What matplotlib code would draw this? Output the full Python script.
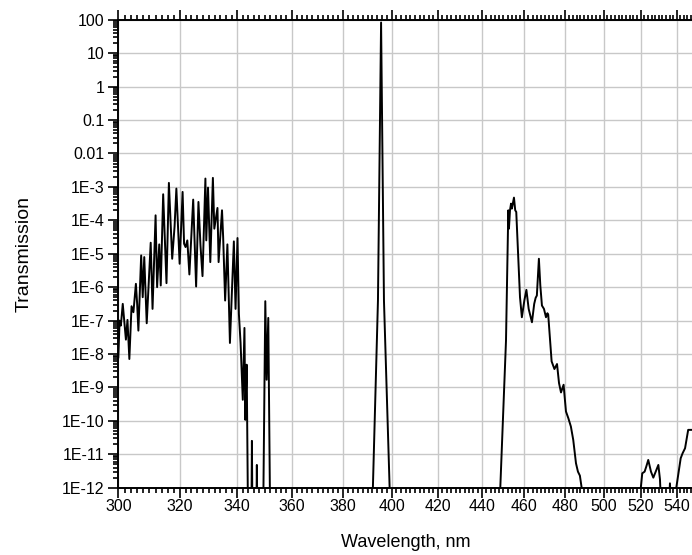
import numpy as np
import matplotlib
matplotlib.use("Agg")
import matplotlib.pyplot as plt
from matplotlib.ticker import FixedLocator, FixedFormatter, LogLocator, NullFormatter

plt.rcParams['font.family'] = ['Liberation Sans', 'DejaVu Sans']

# --- data (wavelength in nm, log10 of transmission) ---
# values below the 1E-12 floor are set to -13 so the line runs off the bottom
wavelength = [
    300.0, 300.4, 300.8, 301.4, 302.4, 302.9, 303.5, 304.2, 304.8, 305.6,
    306.0, 306.4, 307.3, 307.8, 308.3, 309.1, 310.4, 311.0, 312.0, 312.5,
    313.2, 313.7, 314.5, 315.6, 316.4, 317.5, 318.3, 318.9, 320.0, 321.0,
    321.5, 322.0, 322.6, 323.3, 324.6, 325.6, 326.4, 327.1, 327.8, 328.8,
    329.1, 329.7, 330.5, 331.4, 331.9, 333.0, 333.4, 334.6, 335.0, 335.7,
    336.5, 337.4, 338.8, 339.4, 340.1, 340.6, 341.2, 342.0, 342.6, 342.9,
    343.4, 343.9, 345.1, 345.3, 345.5, 346.9, 347.1, 347.3, 349.4, 350.2,
    350.7, 351.3, 352.0, 391.8, 392.2, 394.3, 395.6, 396.8, 399.2, 399.6,
    448.3, 448.5, 451.2, 452.3, 452.6, 453.1, 453.6, 454.0, 455.0, 455.6,
    456.1, 457.9, 458.8, 460.0, 461.0, 462.1, 463.7, 464.8, 465.5, 466.1,
    467.1, 467.8, 468.6, 469.6, 470.6, 471.3, 471.7, 472.4, 473.4, 474.8,
    476.1, 477.1, 478.1, 479.4, 480.6, 481.8, 483.1, 484.3, 485.7, 486.7,
    487.7, 488.6, 489.1, 519.7, 520.0, 520.8, 522.1, 523.0, 524.1, 525.6,
    526.9, 529.7, 530.6, 531.2, 535.2, 536.2, 537.2, 539.6, 539.8, 542.3,
    543.4, 544.8, 546.6, 548.0, 550.0,
]
log_trans = [
    -8.1, -7.0, -7.15, -6.5, -7.57, -6.98, -8.15, -6.57, -6.75, -5.9,
    -6.5, -7.3, -5.05, -6.3, -5.1, -7.08, -4.67, -6.65, -3.85, -6.0,
    -4.72, -5.95, -3.22, -5.88, -2.88, -5.15, -4.18, -3.05, -5.3, -3.15,
    -4.7, -4.8, -4.6, -5.62, -3.38, -5.98, -3.45, -4.75, -5.67, -2.75,
    -4.6, -3.02, -5.25, -2.73, -4.25, -3.63, -5.25, -3.7, -4.5, -6.4,
    -4.72, -7.67, -4.63, -6.65, -4.53, -6.8, -7.67, -9.37, -7.22, -9.97,
    -8.32, -13.0, -13.0, -10.6, -13.0, -13.0, -11.32, -13.0, -13.0, -6.42,
    -8.77, -6.92, -13.0, -13.0, -12.0, -6.4, 1.92, -6.4, -12.0, -13.0,
    -13.0, -12.0, -7.6, -3.7, -4.25, -3.7, -3.5, -3.65, -3.32, -3.7,
    -3.75, -6.3, -6.9, -6.4, -6.08, -6.65, -7.05, -6.5, -6.32, -6.25,
    -5.15, -5.95, -6.55, -6.65, -6.9, -6.78, -6.82, -7.4, -8.22, -8.45,
    -8.3, -8.87, -9.15, -8.92, -9.72, -9.92, -10.17, -10.57, -11.27, -11.52,
    -11.64, -12.0, -13.0, -13.0, -12.0, -11.57, -11.52, -11.37, -11.17, -11.52,
    -11.7, -11.32, -11.75, -12.5, -13.0, -11.87, -13.0, -13.0, -12.0, -11.12,
    -10.97, -10.82, -10.27, -10.27, -10.27,
]

x_major = [300, 320, 340, 360, 380, 400, 420, 440, 460, 480, 500, 520, 540]
y_major = [1e-12, 1e-11, 1e-10, 1e-9, 1e-8, 1e-7, 1e-6, 1e-5, 1e-4, 1e-3,
           0.01, 0.1, 1, 10, 100]
y_labels = ['1E-12', '1E-11', '1E-10', '1E-9', '1E-8', '1E-7', '1E-6', '1E-5',
            '1E-4', '1E-3', '0.01', '0.1', '1', '10', '100']

fig = plt.figure(figsize=(6.92, 5.55), dpi=100)
# axes runs a little past the right edge, like the cropped original
ax = fig.add_axes([0.171, 0.1213, 0.832, 0.843])

ax.plot(wavelength, 10.0 ** np.array(log_trans), color='black', lw=1.4)

ax.set_xscale('log')
ax.set_yscale('log')
ax.set_xlim(300, 550)
ax.set_ylim(1e-12, 100)

ax.xaxis.set_major_locator(FixedLocator(x_major))
ax.xaxis.set_major_formatter(FixedFormatter([str(v) for v in x_major]))
ax.xaxis.set_minor_locator(FixedLocator(np.arange(300, 551, 2)))
ax.xaxis.set_minor_formatter(NullFormatter())

ax.yaxis.set_major_locator(FixedLocator(y_major))
ax.yaxis.set_major_formatter(FixedFormatter(y_labels))
ax.yaxis.set_minor_locator(LogLocator(base=10, subs=np.arange(2, 10), numticks=30))
ax.yaxis.set_minor_formatter(NullFormatter())

ax.grid(True, which='major', color='#c8c8c8', lw=1.0)
ax.set_axisbelow(True)

ax.spines['right'].set_visible(False)
for s in ['left', 'bottom', 'top']:
    ax.spines[s].set_linewidth(1.4)

ax.tick_params(which='both', direction='out', top=True, right=False, width=1.2,
               labelsize=11.5, colors='black')
ax.tick_params(which='major', length=7)
ax.tick_params(which='minor', length=3.5)
ax.tick_params(axis='x', which='major', pad=1.5)
ax.tick_params(axis='y', which='major', pad=3)

ax.set_xlabel('Wavelength, nm', fontsize=13, labelpad=14)
ax.set_ylabel('Transmission', fontsize=14, labelpad=21)

fig.savefig('out.png', dpi=100)
